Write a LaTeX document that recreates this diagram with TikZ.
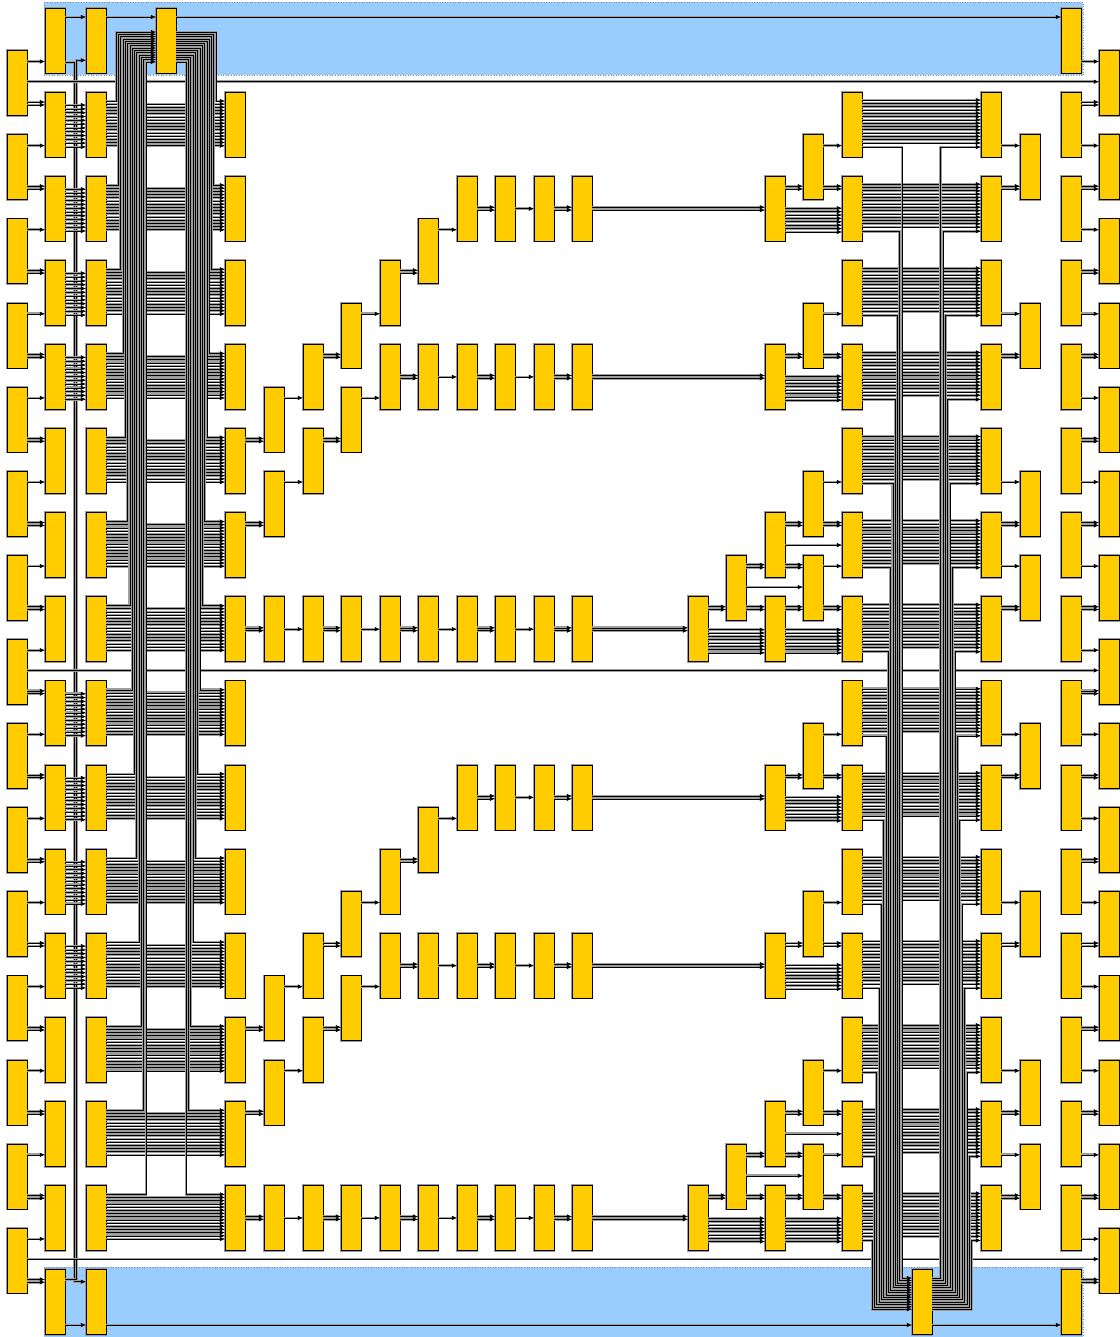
\documentclass[tikz,border=0pt]{standalone}
\usetikzlibrary{arrows.meta}
\definecolor{byel}{RGB}{255,204,0}
\definecolor{bblue}{RGB}{153,204,255}
\tikzset{
  ybox/.style={anchor=north west,minimum width=20pt,minimum height=65pt,inner sep=0pt,outer sep=0pt,fill=byel,draw=black,line width=0.8pt,preaction={draw=black!40,line width=2.6pt}},
  w/.style={draw=black,line width=0.6pt,preaction={draw=black!38,line width=2.7pt},-{Latex[length=5.2pt,width=4.4pt]}},
  region/.style={fill=bblue,draw=black!45,dotted,line width=0.6pt},
}
\newcommand\boxR[3]{\pgfmathsetmacro\yy{8+84.1*(#3)}\node[ybox] (#1) at (#2,\yy) {};}
\newcommand\boxH[3]{\pgfmathsetmacro\yy{50.7+84.1*(#3)}\node[ybox] (#1) at (#2,\yy) {};}
\newcommand\cnS[3]{\pgfmathsetmacro\cy{#3}\draw[w] (#1.east |- 0,\cy) -- (#2.west |- 0,\cy);}
\newcommand\cnD[3]{\pgfmathsetmacro\cya{#3-1.4}\pgfmathsetmacro\cyb{#3+1.4}\draw[w] (#1.east |- 0,\cya) -- (#2.west |- 0,\cya);\draw[w] (#1.east |- 0,\cyb) -- (#2.west |- 0,\cyb);}
\newcommand\bund[5]{\foreach \ii in {0,...,#5}{\pgfmathsetmacro\by{#3+#4*\ii}\draw[w] (#1.east |- 0,\by) -- (#2.west |- 0,\by);}}
\begin{document}
\begin{tikzpicture}[x=1pt,y=-1pt]
\useasboundingbox (0,0) rectangle (1119,1337);
\fill[white] (0,0) rectangle (1119,1337);
\draw[region] (44,2.5) rectangle (1083,75.5);
\draw[region] (44,1267) rectangle (1083,1338);
% boxes
\foreach \k in {0,...,14}{\boxH{A\k}{7}{\k}\boxH{X\k}{1099}{\k}}
\foreach \r in {0,...,15}{\boxR{B\r}{45}{\r}\boxR{C\r}{86}{\r}\boxR{W\r}{1061}{\r}}
\boxR{D0}{156}{0}
\boxR{T15}{912}{15}
\foreach \r in {1,...,14}{\boxR{E\r}{225}{\r}\boxR{S\r}{842}{\r}\boxR{U\r}{981}{\r}}
\boxH{Fh4}{264}{4}\boxH{Fh5}{264}{5}\boxR{F7}{264}{7}\boxH{Fh11}{264}{11}\boxH{Fh12}{264}{12}\boxR{F14}{264}{14}
\foreach \r in {4,5,7,11,12,14}{\boxR{G\r}{303}{\r}}
\boxH{Hh3}{341}{3}\boxH{Hh4}{341}{4}\boxR{H7}{341}{7}\boxH{Hh10}{341}{10}\boxH{Hh11}{341}{11}\boxR{H14}{341}{14}
\foreach \r in {3,4,7,10,11,14}{\boxR{I\r}{380}{\r}}
\boxH{Jh2}{418}{2}\boxR{J4}{418}{4}\boxR{J7}{418}{7}\boxH{Jh9}{418}{9}\boxR{J11}{418}{11}\boxR{J14}{418}{14}
\foreach \r in {2,4,7,9,11,14}{\boxR{K\r}{457}{\r}\boxR{L\r}{495}{\r}\boxR{M\r}{534}{\r}\boxR{N\r}{572}{\r}}
\boxR{O7}{688}{7}\boxR{O14}{688}{14}
\boxH{P6}{726}{6}\boxH{P13}{726}{13}
\foreach \r in {2,4,6,7,9,11,13,14}{\boxR{Q\r}{765}{\r}}
\foreach \k in {1,3,5,6,8,10,12,13}{\boxH{R\k}{803}{\k}\boxH{V\k}{1020}{\k}}
% top and bottom lines
\cnS{B0}{C0}{17}\cnS{C0}{D0}{17}\cnS{D0}{W0}{17}
\cnS{B15}{C15}{1325}\cnS{C15}{T15}{1325}\cnS{T15}{W15}{1325}
\draw[w] (B0.east |- 0,62.3) -| (74,1281.7) -- (C15.west |- 0,1281.7);
\draw[w] (B15.east |- 0,1279.3) -| (76.7,60.3) -- (C0.west |- 0,60.3);
\foreach \k in {0,7,14}{\cnS{A\k}{X\k}{81.7+84.1*\k}}
% A->B and W->X
\foreach \k [evaluate=\k as \kn using int(\k+1)] in {0,...,14}{%
 \cnS{A\k}{B\k}{61.5+84.1*\k}\cnD{A\k}{B\kn}{103.5+84.1*\k}%
 \cnS{W\k}{X\k}{61.5+84.1*\k}\cnD{W\kn}{X\k}{103.5+84.1*\k}}
% bundles
\foreach \r in {1,2,3,4,8,9,10,11}{\bund{B\r}{C\r}{8+84.1*\r+13}{3.8}{11}}
\foreach \r in {1,...,14}{\bund{C\r}{E\r}{8+84.1*\r+12}{3.2}{13}\bund{S\r}{U\r}{8+84.1*\r+8}{3.3}{13}}
\foreach \r in {2,4,9,11}{\bund{Q\r}{S\r}{8+84.1*\r+32}{3.4}{7}}
% fans
\foreach \r in {1,...,14}{%
 \pgfmathsetmacro\ty{8+84.1*\r+9}%
 \pgfmathsetmacro\xl{116+2.3*(\r-1)}%
 \pgfmathsetmacro\xr{216-2.3*(\r-1)}%
 \pgfmathsetmacro\dy{32+2.3*(\r-1)}%
 \draw[w] (C\r.east |- 0,\ty) -| (\xl,\dy) -- (D0.west |- 0,\dy);
 \draw[w] (D0.east |- 0,\dy) -| (\xr,\ty) -- (E\r.west |- 0,\ty);
 \pgfmathsetmacro\sy{8+84.1*\r+55}%
 \pgfmathsetmacro\xs{902-2.3*(\r-1)}%
 \pgfmathsetmacro\xu{940.5+2.4*(\r-1)}%
 \pgfmathsetmacro\tb{1278+2.4*(\r-1)}%
 \draw[w] (S\r.east |- 0,\sy) -| (\xs,\tb) -- (T15.west |- 0,\tb);
 \draw[w] (T15.east |- 0,\tb) -| (\xu,\sy) -- (U\r.west |- 0,\sy);
}
% left chains
\foreach \p in {0,7}{%
 \pgfmathtruncatemacro\nnA{2+\p}\pgfmathtruncatemacro\nnB{3+\p}\pgfmathtruncatemacro\nnC{4+\p}%
 \pgfmathtruncatemacro\nnD{5+\p}\pgfmathtruncatemacro\nnE{6+\p}\pgfmathtruncatemacro\nnF{7+\p}%
 \cnD{E\nnD}{Fh\nnC}{103.5+84.1*\nnC}
 \cnD{E\nnE}{Fh\nnD}{103.5+84.1*\nnD}
 \cnS{Fh\nnC}{G\nnC}{61.5+84.1*\nnC}
 \cnS{Fh\nnD}{G\nnD}{61.5+84.1*\nnD}
 \cnD{G\nnC}{Hh\nnB}{103.5+84.1*\nnB}
 \cnD{G\nnD}{Hh\nnC}{103.5+84.1*\nnC}
 \cnS{Hh\nnB}{I\nnB}{61.5+84.1*\nnB}
 \cnS{Hh\nnC}{I\nnC}{61.5+84.1*\nnC}
 \cnD{I\nnB}{Jh\nnA}{103.5+84.1*\nnA}
 \cnD{I\nnC}{J\nnC}{40.5+84.1*\nnC}
 \cnS{Jh\nnA}{K\nnA}{61.5+84.1*\nnA}
 \cnS{J\nnC}{K\nnC}{40.5+84.1*\nnC}
 \cnD{E\nnF}{F\nnF}{40.5+84.1*\nnF}
 \cnS{F\nnF}{G\nnF}{40.5+84.1*\nnF}
 \cnD{G\nnF}{H\nnF}{40.5+84.1*\nnF}
 \cnS{H\nnF}{I\nnF}{40.5+84.1*\nnF}
 \cnD{I\nnF}{J\nnF}{40.5+84.1*\nnF}
 \cnS{J\nnF}{K\nnF}{40.5+84.1*\nnF}
 \cnD{N\nnA}{Q\nnA}{40.5+84.1*\nnA}
 \cnD{N\nnC}{Q\nnC}{40.5+84.1*\nnC}
 \cnD{N\nnF}{O\nnF}{40.5+84.1*\nnF}
}
\foreach \r in {2,4,7,9,11,14}{\cnD{K\r}{L\r}{40.5+84.1*\r}\cnS{L\r}{M\r}{40.5+84.1*\r}\cnD{M\r}{N\r}{40.5+84.1*\r}}
% right side
\foreach \k [evaluate=\k as \kn using int(\k+1)] in {1,3,5,6,8,10,12,13}{%
 \cnD{Q\kn}{R\k}{103.5+84.1*\k}
 \cnS{R\k}{S\k}{61.5+84.1*\k}
 \cnD{R\k}{S\kn}{103.5+84.1*\k}
 \cnS{U\k}{V\k}{61.5+84.1*\k}
 \cnD{U\kn}{V\k}{103.5+84.1*\k}}
\foreach \k [evaluate=\k as \kn using int(\k+1)] in {6,13}{%
 \cnD{O\kn}{P\k}{103.5+84.1*\k}
 \cnD{P\k}{Q\kn}{103.5+84.1*\k}
 \cnD{P\k}{Q\k}{61.5+84.1*\k}
 \cnS{P\k}{R\k}{82.5+84.1*\k}
 \cnD{Q\k}{R\k}{61.5+84.1*\k}
 \cnS{Q\k}{S\k}{40.5+84.1*\k}
 \bund{O\kn}{Q\kn}{8+84.1*\kn+33}{3.3}{7}
 \bund{Q\kn}{S\kn}{8+84.1*\kn+33}{3.3}{7}}
\end{tikzpicture}
\end{document}
